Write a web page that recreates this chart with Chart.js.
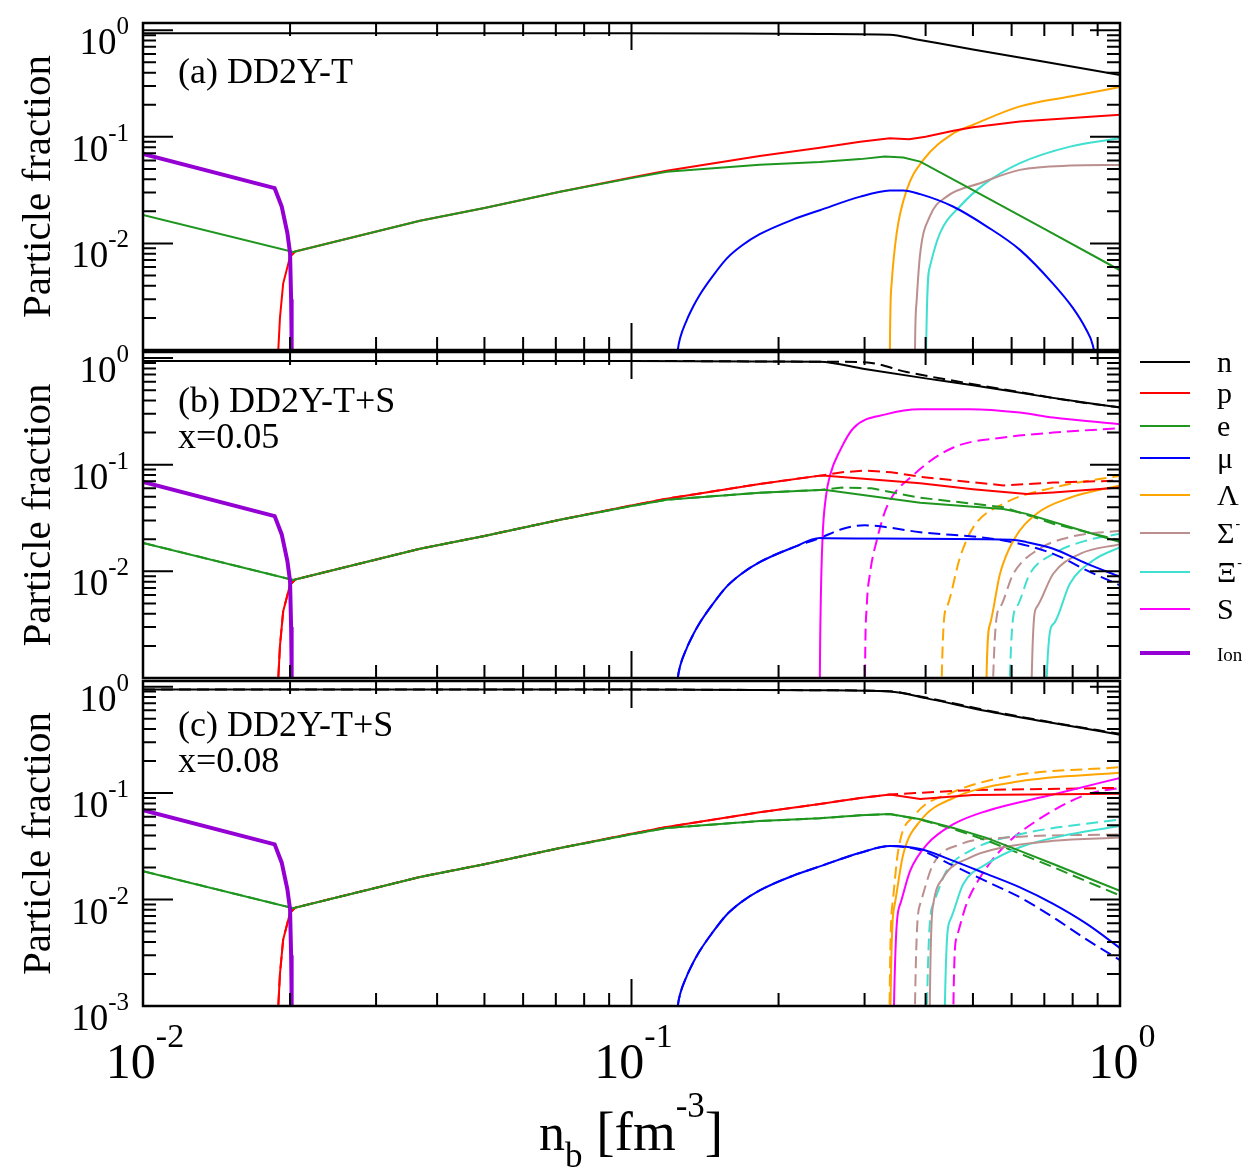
<!DOCTYPE html>
<html>
<head>
<meta charset="utf-8">
<script src="https://cdn.jsdelivr.net/npm/chart.js@4.4.1/dist/chart.umd.min.js"></script>
<style>
  body { margin: 0; background: #fff; }
  #wrap { position: relative; width: 1250px; height: 1172px; }
  #wrap canvas { position: absolute; left: 0; top: 0; }
</style>
</head>
<body>
<div id="wrap">
  <canvas id="chartA" width="1250" height="1172"></canvas>
  <canvas id="chartB" width="1250" height="1172"></canvas>
  <canvas id="chartC" width="1250" height="1172"></canvas>
</div>
<script>
// ---- data: [n_b, fraction] ----
// low density part, shared by the three panels
const ion = [[0.01,0.069],[0.0186,0.033],[0.01923,0.0222],[0.01975,0.0125],[0.02,0.0081],[0.0201,0.003],[0.02015,0.0012],[0.0202,0.0001]];
const nLow = [[0.01,0.94],[0.1,0.94],[0.243,0.925]];
const pLow = [[0.0188,0.0001],[0.0189,0.0009],[0.01907,0.002],[0.01936,0.0042],[0.02,0.0075],[0.0205,0.0084],[0.0369,0.0163],[0.05,0.0215],[0.0714,0.0305],[0.1,0.0415],[0.118,0.048],[0.183,0.066],[0.243,0.079]];
const eLow = [[0.01,0.0185],[0.0203,0.0083],[0.0369,0.0163],[0.05,0.0215],[0.0714,0.0305],[0.1,0.041],[0.118,0.047],[0.183,0.0546],[0.243,0.058]];
const muLow = [[0.1231,0.0003],[0.1236,0.0007],[0.1244,0.001],[0.1258,0.0013],[0.1297,0.0019],[0.134,0.0026],[0.138,0.0033],[0.146,0.0048],[0.1566,0.0072],[0.168,0.0095],[0.183,0.0122],[0.2144,0.0168],[0.243,0.0205]];

// (a) DD2Y-T
const nA = nLow.concat([[0.338,0.91],[0.384,0.82],[0.5,0.66],[0.7,0.506],[1,0.38]]);
const pA = pLow.concat([[0.294,0.09],[0.338,0.097],[0.37,0.095],[0.4,0.1],[0.456,0.114],[0.5,0.123],[0.624,0.139],[1,0.161]]);
const eA = eLow.concat([[0.294,0.0618],[0.33,0.0655],[0.36,0.064],[0.39,0.0586],[0.5,0.0316],[0.7,0.0137],[1,0.0056]]);
const muA = muLow.concat([[0.294,0.0275],[0.338,0.0313],[0.36,0.0314],[0.39,0.029],[0.455,0.0222],[0.534,0.0144],[0.624,0.0087],[0.729,0.0042],[0.8,0.0025],[0.85,0.0016],[0.88,0.0011],[0.895,0.0007],[0.905,0.0004]]);
const lamA = [[0.3375,0.0001],[0.338,0.001],[0.3408,0.0042],[0.349,0.0125],[0.366,0.0318],[0.3957,0.0608],[0.456,0.108],[0.501,0.13],[0.624,0.193],[0.79,0.239],[1,0.293]];
const sigA = [[0.3795,0.0001],[0.3805,0.001],[0.3835,0.0029],[0.39,0.0081],[0.408,0.0179],[0.4417,0.0275],[0.517,0.0367],[0.624,0.049],[0.79,0.0537],[1,0.0545]];
const xiA = [[0.4005,0.0001],[0.401,0.001],[0.408,0.006],[0.428,0.0125],[0.47,0.0222],[0.525,0.0354],[0.624,0.0566],[0.79,0.081],[1,0.097]];

// (b) DD2Y-T+S, x=0.05 (solid) and dashed companions
const nB = nLow.concat([[0.3,0.79],[0.4,0.645],[0.5,0.555],[0.7,0.435],[1,0.343]]);
const nBd = nLow.concat([[0.3,0.915],[0.366,0.74],[0.45,0.62],[0.6,0.495],[0.8,0.395],[1,0.345]]);
const pB = pLow.concat([[0.25,0.079],[0.39,0.067],[0.5,0.059],[0.644,0.053],[0.73,0.055],[1,0.061]]);
const pBd = pLow.concat([[0.27,0.085],[0.3,0.088],[0.34,0.085],[0.39,0.077],[0.577,0.064],[0.73,0.068],[1,0.071]]);
const eB = eLow.concat([[0.25,0.058],[0.39,0.044],[0.577,0.0385],[0.644,0.0346],[0.8,0.0256],[1,0.0188]]);
const eBd = eLow.concat([[0.27,0.061],[0.31,0.06],[0.39,0.049],[0.577,0.04],[0.73,0.028],[1,0.0195]]);
const muB = muLow.concat([[0.25,0.0204],[0.6,0.0198],[0.644,0.0188],[0.73,0.0163],[0.855,0.0118],[1,0.0089]]);
const muBd = muLow.concat([[0.27,0.025],[0.3,0.027],[0.39,0.0233],[0.577,0.0195],[0.73,0.0146],[0.855,0.0102],[1,0.0074]]);
const lamB = [[0.532,0.0001],[0.533,0.001],[0.542,0.0032],[0.568,0.0095],[0.605,0.0195],[0.675,0.0347],[0.79,0.049],[1,0.064]];
const lamBd = [[0.431,0.0001],[0.4316,0.001],[0.4418,0.0046],[0.4706,0.0136],[0.501,0.026],[0.577,0.043],[0.73,0.061],[1,0.079]];
const sigB = [[0.659,0.0001],[0.6596,0.001],[0.675,0.0046],[0.73,0.0095],[0.828,0.0146],[1,0.018]];
const sigBd = [[0.549,0.0001],[0.55,0.001],[0.568,0.0046],[0.605,0.0095],[0.675,0.0157],[0.79,0.021],[1,0.024]];
const xiB = [[0.707,0.0001],[0.708,0.001],[0.73,0.0032],[0.79,0.0077],[0.882,0.0127],[1,0.0169]];
const xiBd = [[0.594,0.0001],[0.595,0.001],[0.614,0.0046],[0.654,0.0095],[0.73,0.0146],[0.855,0.0195],[1,0.0225]];
const sB = [[0.2425,0.0001],[0.243,0.001],[0.244,0.005],[0.246,0.02],[0.25,0.05],[0.255,0.08],[0.267,0.135],[0.2845,0.22],[0.333,0.298],[0.39,0.332],[0.493,0.332],[0.624,0.308],[0.729,0.277],[1,0.24]];
const sBd = [[0.3,0.0001],[0.3006,0.001],[0.303,0.0046],[0.3077,0.0095],[0.3177,0.0195],[0.333,0.04],[0.3775,0.08],[0.456,0.145],[0.577,0.18],[0.73,0.2],[1,0.22]];

// (c) DD2Y-T+S, x=0.08
const nC = nLow.concat([[0.338,0.9],[0.4,0.78],[0.533,0.59],[0.7,0.47],[1,0.354]]);
const nCd = nLow.concat([[0.338,0.905],[0.4,0.79],[0.533,0.6],[0.7,0.475],[1,0.36]]);
const pC = pLow.concat([[0.294,0.09],[0.338,0.097],[0.39,0.088],[0.5,0.096],[1,0.0986]]);
const pCd = pLow.concat([[0.294,0.09],[0.338,0.097],[0.38,0.1],[0.5,0.107],[1,0.112]]);
const eC = eLow.concat([[0.294,0.0618],[0.338,0.0635],[0.39,0.0567],[0.456,0.047],[0.533,0.038],[0.624,0.0287],[0.73,0.0216],[0.855,0.0161],[1,0.0121]]);
const eCd = eLow.concat([[0.294,0.0618],[0.338,0.0635],[0.39,0.0565],[0.456,0.046],[0.533,0.036],[0.624,0.027],[0.73,0.0202],[0.855,0.0148],[1,0.0109]]);
const muC = muLow.concat([[0.294,0.0275],[0.338,0.0318],[0.39,0.0298],[0.456,0.0231],[0.533,0.0174],[0.624,0.013],[0.73,0.0091],[0.855,0.0059],[1,0.0035]]);
const muCd = muLow.concat([[0.294,0.0275],[0.338,0.0318],[0.39,0.029],[0.456,0.0208],[0.533,0.0148],[0.624,0.0105],[0.73,0.0068],[0.855,0.0042],[1,0.0027]]);
const lamC = [[0.3385,0.0001],[0.339,0.001],[0.346,0.0091],[0.36,0.0267],[0.39,0.0547],[0.456,0.09],[0.624,0.129],[1,0.155]];
const lamCd = [[0.337,0.0001],[0.3375,0.001],[0.343,0.01],[0.352,0.03],[0.38,0.062],[0.45,0.1],[0.6,0.145],[1,0.175]];
const sigC = [[0.4075,0.0001],[0.408,0.001],[0.4148,0.0091],[0.4346,0.0161],[0.493,0.0248],[0.577,0.031],[0.73,0.0356],[1,0.0382]];
const sigCd = [[0.38,0.0001],[0.3805,0.001],[0.39,0.0091],[0.4148,0.0216],[0.4706,0.033],[0.577,0.038],[1,0.041]];
const xiC = [[0.4375,0.0001],[0.438,0.001],[0.449,0.0064],[0.4777,0.014],[0.5335,0.0216],[0.624,0.031],[0.79,0.041],[1,0.049]];
const xiCd = [[0.402,0.0001],[0.4026,0.001],[0.4148,0.0091],[0.4417,0.0187],[0.493,0.0287],[0.624,0.041],[1,0.0567]];
const sC = [[0.344,0.0001],[0.3446,0.001],[0.355,0.0091],[0.372,0.0187],[0.4026,0.033],[0.456,0.051],[0.5335,0.068],[0.73,0.097],[1,0.139]];
const sCd = [[0.4555,0.0001],[0.456,0.001],[0.463,0.0044],[0.485,0.0091],[0.517,0.0161],[0.577,0.031],[0.675,0.055],[0.855,0.097],[1,0.112]];

// legend entries and tick labels
const legendLabels = ['n', 'p', 'e', 'μ', 'Λ', 'Σ', 'Ξ', 'S', 'Ion'];
const legendSups = ['', '', '', '', '', '-', '-', '', ''];
const yExpAB = ['0', '-1', '-2'];
const yExpC = ['0', '-1', '-2', '-3'];
const xExp = ['-2', '-1', '0'];

const colors = {
  n: '#000000', p: '#ff0000', e: '#1f961f', 'μ': '#0000ff', 'Λ': '#ffa500',
  'Σ': '#bc8f8f', 'Ξ': '#40e0d0', S: '#ff00ff', Ion: '#9400d3'
};
// these have sharp kinks, so they are drawn with straight segments
const straight = ['Ion', 'p', 'e'];

const FONT = '"Liberation Serif", "Times New Roman", serif';

function line(label, data, dashed) {
  return {
    label: label,
    data: data,
    borderColor: colors[label],
    borderWidth: label === 'Ion' ? 4 : 2,
    borderDash: dashed ? [12, 6] : [],
    pointRadius: 0,
    fill: false,
    tension: 0,
    cubicInterpolationMode: straight.includes(label) ? 'default' : 'monotone'
  };
}

// tick positions on the log axes (1..9 per decade)
const xTickVals = [];
for (let d = -2; d < 0; d++) for (let m = 1; m < 10; m++) xTickVals.push(m * Math.pow(10, d));
xTickVals.push(1);
const yTickVals = [];
for (let d = -3; d < 0; d++) for (let m = 1; m < 10; m++) yTickVals.push(m * Math.pow(10, d));
yTickVals.push(1);

function isDecade(v) {
  const l = Math.log10(v);
  return Math.abs(l - Math.round(l)) < 1e-9;
}

function powLabel(ctx, exp, x, base, big, small, raise, align) {
  ctx.font = big + 'px ' + FONT;
  const wb = ctx.measureText('10').width;
  ctx.font = small + 'px ' + FONT;
  const we = ctx.measureText(exp).width;
  const x0 = align === 'right' ? x - we - wb : x - (wb + we) / 2;
  ctx.font = big + 'px ' + FONT;
  ctx.fillText('10', x0, base);
  ctx.font = small + 'px ' + FONT;
  ctx.fillText(exp, x0 + wb, base - raise);
}

const panelPlugin = {
  id: 'panel',
  afterDatasetsDraw(chart, args, o) {
    const ctx = chart.ctx;
    const a = chart.chartArea;
    const xs = chart.scales.x, ys = chart.scales.y;
    ctx.save();
    ctx.strokeStyle = '#000';
    ctx.fillStyle = '#000';
    ctx.textAlign = 'left';
    ctx.textBaseline = 'alphabetic';

    // inward ticks on all four sides
    ctx.lineWidth = 2;
    ctx.beginPath();
    xTickVals.forEach(v => {
      const p = xs.getPixelForValue(v);
      const len = isDecade(v) ? 27 : 13;
      ctx.moveTo(p, a.bottom); ctx.lineTo(p, a.bottom - len);
      ctx.moveTo(p, a.top); ctx.lineTo(p, a.top + len);
    });
    yTickVals.forEach(v => {
      const p = ys.getPixelForValue(v);
      const len = isDecade(v) ? 30 : 13;
      ctx.moveTo(a.left, p); ctx.lineTo(a.left + len, p);
      ctx.moveTo(a.right, p); ctx.lineTo(a.right - len, p);
    });
    ctx.stroke();
    ctx.lineWidth = 2.5;
    ctx.strokeRect(a.left, a.top, a.right - a.left, a.bottom - a.top);

    // y tick labels
    o.yExp.forEach(e => {
      const p = ys.getPixelForValue(Math.pow(10, +e));
      powLabel(ctx, e, 129, p + 24, 37, 25, 20, 'right');
    });

    // y title
    ctx.save();
    ctx.translate(50, (a.top + a.bottom) / 2);
    ctx.rotate(-Math.PI / 2);
    ctx.textAlign = 'center';
    ctx.font = '41px ' + FONT;
    ctx.fillText('Particle fraction', 0, 0);
    ctx.restore();

    // panel caption
    ctx.font = '36px ' + FONT;
    o.caption.forEach(c => ctx.fillText(c[0], 178, a.top + c[1]));

    // x axis labels and title (bottom panel)
    if (o.xAxis) {
      xExp.forEach(e => {
        const p = xs.getPixelForValue(Math.pow(10, +e));
        powLabel(ctx, e, p + 2, 1078, 50, 34, 31, 'center');
      });
      let x = 539;
      const put = (t, size, y) => {
        ctx.font = size + 'px ' + FONT;
        ctx.fillText(t, x, y);
        x += ctx.measureText(t).width;
      };
      put('n', 52, 1150);
      put('b', 35, 1167);
      put(' [fm', 55, 1150);
      put('-3', 35, 1117);
      put(']', 55, 1150);
    }

    // legend (middle panel)
    if (o.legend) {
      const ly = [362, 393, 426, 458, 495, 533, 572, 609, 653];
      legendLabels.forEach((lab, i) => {
        const ds = chart.data.datasets.find(d => d.label === lab && d.borderDash.length === 0);
        ctx.strokeStyle = ds.borderColor;
        ctx.lineWidth = ds.borderWidth;
        ctx.beginPath();
        ctx.moveTo(1140, ly[i]); ctx.lineTo(1190, ly[i]);
        ctx.stroke();
        const size = lab === 'Ion' ? 19 : 30;
        ctx.font = size + 'px ' + FONT;
        ctx.fillStyle = '#000';
        ctx.fillText(lab, 1217, ly[i] + (lab === 'Ion' ? 8 : 10));
        if (legendSups[i]) {
          const w = ctx.measureText(lab).width;
          ctx.font = '14px ' + FONT;
          ctx.fillText(legendSups[i], 1217 + w + 1, ly[i] - 5);
        }
      });
    }
    ctx.restore();
  }
};

function makeChart(id, datasets, pad, yMax, panel) {
  return new Chart(document.getElementById(id), {
    type: 'line',
    data: { datasets: datasets },
    options: {
      responsive: false,
      animation: false,
      devicePixelRatio: 1,
      events: [],
      layout: { padding: pad },
      scales: {
        x: { type: 'logarithmic', min: 0.01, max: 1, display: false },
        y: { type: 'logarithmic', min: 0.001, max: yMax, display: false }
      },
      plugins: {
        legend: { display: false },
        tooltip: { enabled: false },
        panel: panel
      }
    },
    plugins: [panelPlugin]
  });
}

// first dataset is painted last (on top)
makeChart('chartA', [
  line('Ion', ion), line('n', nA), line('e', eA), line('p', pA), line('μ', muA),
  line('Λ', lamA), line('Σ', sigA), line('Ξ', xiA)
], { left: 143, right: 130, top: 23, bottom: 822 }, 1.17,
  { yExp: yExpAB, caption: [['(a) DD2Y-T', 60]], xAxis: false, legend: false });

makeChart('chartB', [
  line('Ion', ion), line('n', nB), line('e', eB), line('p', pB), line('μ', muB),
  line('Λ', lamB), line('Σ', sigB), line('Ξ', xiB), line('S', sB),
  line('n', nBd, true), line('e', eBd, true), line('p', pBd, true), line('μ', muBd, true),
  line('Λ', lamBd, true), line('Σ', sigBd, true), line('Ξ', xiBd, true), line('S', sBd, true)
], { left: 143, right: 130, top: 352, bottom: 494 }, 1.14,
  { yExp: yExpAB, caption: [['(b) DD2Y-T+S', 60], ['x=0.05', 96]], xAxis: false, legend: true });

makeChart('chartC', [
  line('Ion', ion), line('n', nC), line('e', eC), line('p', pC), line('μ', muC),
  line('Λ', lamC), line('Σ', sigC), line('Ξ', xiC), line('S', sC),
  line('n', nCd, true), line('e', eCd, true), line('p', pCd, true), line('μ', muCd, true),
  line('Λ', lamCd, true), line('Σ', sigCd, true), line('Ξ', xiCd, true), line('S', sCd, true)
], { left: 143, right: 130, top: 681, bottom: 166 }, 1.13,
  { yExp: yExpC, caption: [['(c) DD2Y-T+S', 55], ['x=0.08', 91]], xAxis: true, legend: false });
</script>
</body>
</html>
